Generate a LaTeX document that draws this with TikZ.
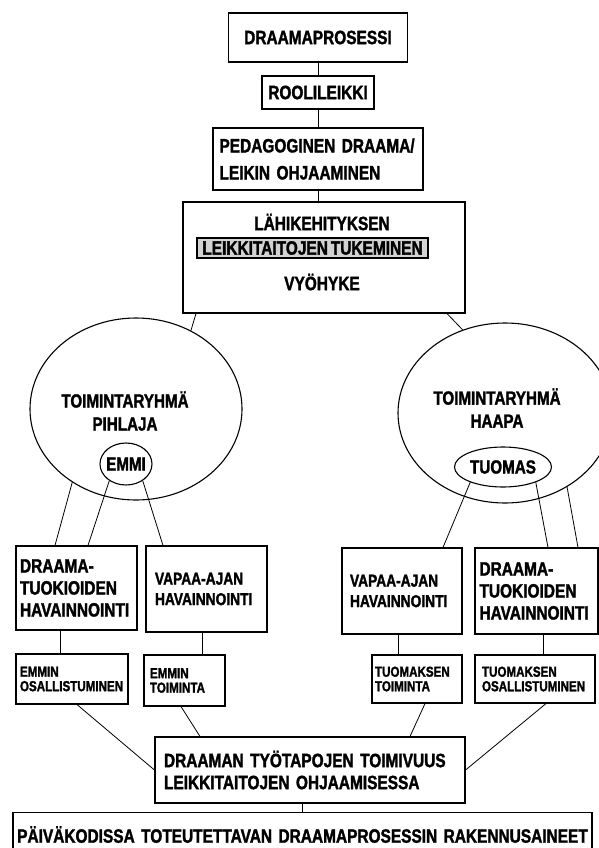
\documentclass[tikz,border=0pt]{standalone}
\usepackage{fontspec}
\setmainfont{Liberation Sans}[FakeStretch=0.8, WordSpace=0.7, BoldFeatures={FakeBold=1.6}]
\usetikzlibrary{shapes.geometric}
\tikzstyle{box} = [draw, rectangle, line width=1.1pt, inner sep=0pt, align=center,
    font=\fontsize{19.3}{25}\selectfont\bfseries]
\tikzstyle{leftbox} = [box, align=left, font=\fontsize{19.3}{22}\selectfont\bfseries]
\tikzstyle{smallbox} = [box, align=left, font=\fontsize{14.5}{14.5}\selectfont\bfseries]
\tikzstyle{freebox} = [box, align=left, font=\fontsize{17.2}{20.5}\selectfont\bfseries]
\tikzstyle{shaded} = [draw, rectangle, line width=2.6pt, fill=gray!35, inner sep=0pt,
    font=\fontsize{19.3}{22}\selectfont\bfseries]
\tikzstyle{group} = [draw, ellipse, line width=1.1pt, inner sep=0pt,
    font=\fontsize{19}{22}\selectfont\bfseries]
\tikzstyle{grouptext} = [align=center, inner sep=0pt, font=\fontsize{19}{23}\selectfont\bfseries]
\tikzstyle{zonetext} = [inner sep=0pt, font=\fontsize{19.3}{22}\selectfont\bfseries]
\tikzstyle{link} = [line width=0.8pt]

\begin{document}
\begin{tikzpicture}[x=1pt, y=-1pt, node distance=55pt]
    \useasboundingbox (0,0) rectangle (599,848);
    \clip (0,0) rectangle (599,848);
    % top chain
    \node [box, minimum width=179pt, minimum height=49pt] (proc) at (318,37.5) {DRAAMAPROSESSI};
    \node [box, below of=proc, minimum width=112pt, minimum height=33pt] (role) {ROOLILEIKKI};
    \node [box, align=left, below of=role, node distance=66.5pt, minimum height=62pt,
        text width=197pt, inner xsep=6.5pt, font=\fontsize{19.3}{27}\selectfont\bfseries]
        (ped) {PEDAGOGINEN DRAAMA/\\LEIKIN OHJAAMINEN};
    \node [box, minimum width=282pt, minimum height=111pt] (zone) at (324,257.5) {};
    \node [shaded, minimum width=231pt, minimum height=20pt] (skill) at (312.5,248) {LEIKKITAITOJEN TUKEMINEN};
    \node [zonetext, above of=skill, node distance=26pt, xshift=9.5pt] (nearest) {LÄHIKEHITYKSEN};
    \node [zonetext, below of=skill, node distance=34pt, xshift=9.5pt] (zonetxt) {VYÖHYKE};
    % groups
    \node [group, minimum width=212pt, minimum height=182pt] (pihlaja) at (136,409) {};
    \node [grouptext] (pihlajatxt) at (125,411) {TOIMINTARYHMÄ\\PIHLAJA};
    \node [group, minimum width=52pt, minimum height=42pt, inner xsep=-6pt] (emmi) at (126,464) {EMMI};
    \node [group, minimum width=214pt, minimum height=180pt] (haapa) at (505,413) {};
    \node [grouptext] (haapatxt) at (497,408) {TOIMINTARYHMÄ\\HAAPA};
    \node [group, minimum width=97pt, minimum height=40pt] (tuomas) at (503,467) {TUOMAS};
    % observation boxes
    \node [leftbox, minimum height=84pt, text width=113pt, inner xsep=4pt] (dl) at (76.5,588)
        {DRAAMA-\\TUOKIOIDEN\\HAVAINNOINTI};
    \node [freebox, minimum height=86pt, text width=103pt, inner xsep=9pt] (vl) at (206.5,589)
        {VAPAA-AJAN\\HAVAINNOINTI};
    \node [freebox, minimum height=86pt, text width=104pt, inner xsep=8pt] (vr) at (402,591)
        {VAPAA-AJAN\\HAVAINNOINTI};
    \node [leftbox, minimum height=86pt, text width=114pt, inner xsep=4.5pt] (dr) at (536.5,591)
        {DRAAMA-\\TUOKIOIDEN\\HAVAINNOINTI};
    \node [smallbox, minimum height=50pt, text width=104pt, inner xsep=4pt] (eo) at (72,679)
        {EMMIN\\OSALLISTUMINEN};
    \node [smallbox, minimum height=51pt, text width=69pt, inner xsep=6pt] (et) at (184.5,680.5)
        {EMMIN\\TOIMINTA};
    \node [smallbox, minimum height=48pt, text width=84pt, inner xsep=3pt] (tt) at (417,679)
        {TUOMAKSEN\\TOIMINTA};
    \node [smallbox, minimum height=48pt, text width=106pt, inner xsep=7pt] (to) at (535,679)
        {TUOMAKSEN\\OSALLISTUMINEN};
    % result
    \node [leftbox, minimum height=66pt, text width=292pt, inner xsep=9pt] (work) at (310,770)
        {DRAAMAN TYÖTAPOJEN TOIMIVUUS\\LEIKKITAITOJEN OHJAAMISESSA};
    \node [box, anchor=north, minimum height=44pt, text width=577pt, inner xsep=1pt] (base) at (302.5,812)
        {PÄIVÄKODISSA TOTEUTETTAVAN DRAAMAPROSESSIN RAKENNUSAINEET};
    % connectors
    \draw [link] (proc) -- (role);
    \draw [link] (role) -- (ped);
    \draw [link] (ped) -- (ped |- zone.north);
    \draw [link] ([xshift=-128pt]zone.south) -- (pihlaja.55);
    \draw [link] ([xshift=123pt]zone.south) -- (haapa.117);
    \draw [link] (pihlaja.229) -- ([xshift=-21.5pt]dl.north);
    \draw [link] (emmi.225) -- ([xshift=11.5pt]dl.north);
    \draw [link] (emmi.-45) -- ([xshift=-43.5pt]vl.north);
    \draw [link] (tuomas.205) -- ([xshift=41pt]vr.north);
    \draw [link] (tuomas.-25) -- ([xshift=11.5pt]dr.north);
    \draw [link] (haapa.-50) -- ([xshift=41.5pt]dr.north);
    \draw [link] ([xshift=-16.5pt]dl.south) -- ([xshift=-12pt]eo.north);
    \draw [link] ([xshift=-4.5pt]vl.south) -- ([xshift=17.5pt]et.north);
    \draw [link] ([xshift=-4pt]vr.south) -- ([xshift=-19pt]tt.north);
    \draw [link] ([xshift=6.5pt]dr.south) -- ([xshift=8pt]to.north);
    \draw [link] ([xshift=5pt]eo.south) -- (work.west);
    \draw [link] ([xshift=-3.5pt]et.south) -- ([xshift=-110pt]work.north);
    \draw [link] ([xshift=8pt]tt.south) -- ([xshift=100pt]work.north);
    \draw [link] ([xshift=11pt]to.south) -- (work.east);
    \draw [link] (base.north) -- (base.north |- work.south);
\end{tikzpicture}
\end{document}
